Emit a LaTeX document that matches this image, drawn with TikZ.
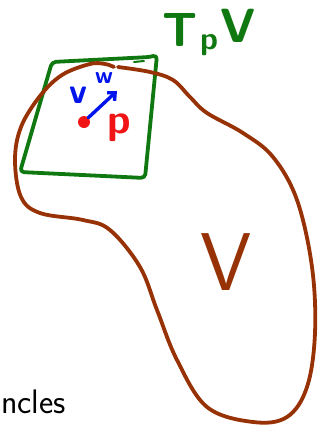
\documentclass[tikz,border=0pt]{standalone}
\usetikzlibrary{arrows.meta}
\definecolor{mgreen}{RGB}{16,120,16}
\definecolor{mbrown}{RGB}{150,50,5}
\definecolor{mblue}{RGB}{0,20,235}
\definecolor{mred}{RGB}{240,20,20}
\tikzset{
  pen/.style={line width=3.8pt, line cap=round, line join=round},
  lbl/.style={inner sep=0pt, font=\sffamily},
}
\begin{document}
\begin{tikzpicture}[x=1pt,y=-1pt]
\useasboundingbox (0,0) rectangle (328,429);
% tangent plane
\draw[pen, mgreen, rounded corners=4pt] (52,62) -- (150,57) -- (157,55) -- (145,178) -- (20,172) -- cycle;
\draw[pen, mgreen, line width=2pt] (134,62) -- (144,61);
% V surface
\draw[pen, mbrown] plot[smooth, tension=0.6] coordinates {
 (118,67) (150,72) (173,80) (190,97) (207,113) (243,133) (273,157) (297,200)
 (312,267) (315,333) (307,387) (287,417) (253,422) (207,407) (177,360) (157,310)
 (140,267) (110,230) (83,220) (40,213) (21,197) (15,160) (21,127) (40,96) (62,75) (90,64) (105,64) (114,67)};
% point and vector
\node[circle, fill=mred, inner sep=0pt, minimum size=12pt] (P) at (84,122) {};
\coordinate (tip) at (117,91);
\draw[pen, mblue, line width=3.4pt, -{Straight Barb[length=6pt,width=11pt]}] (P.north east) -- (tip);
\node[lbl, mblue, font=\sffamily\bfseries\fontsize{36}{36}\selectfont] (v) at (78,95) {v};
\node[lbl, mblue, font=\sffamily\bfseries\fontsize{24}{24}\selectfont] (w) at (104,78) {w};
\node[lbl, mred, font=\sffamily\bfseries\fontsize{42}{42}\selectfont] (p) at (119,128) {p};
% labels
\node[lbl, mgreen, font=\sffamily\bfseries\fontsize{48}{48}\selectfont] (T) at (180,30) {T};
\node[lbl, mgreen, font=\sffamily\bfseries\fontsize{32}{32}\selectfont] (tp) at (209,45) {p};
\node[lbl, mgreen, font=\sffamily\bfseries\fontsize{48}{48}\selectfont] (TV) at (238,26) {V};
\node[lbl, mbrown, font=\sffamily\fontsize{82}{82}\selectfont] (V) at (226,262) {V};
\node[lbl, black, font=\sffamily\fontsize{34}{34}\selectfont, anchor=west] (txt) at (1,402) {ncles};
\end{tikzpicture}
\end{document}
